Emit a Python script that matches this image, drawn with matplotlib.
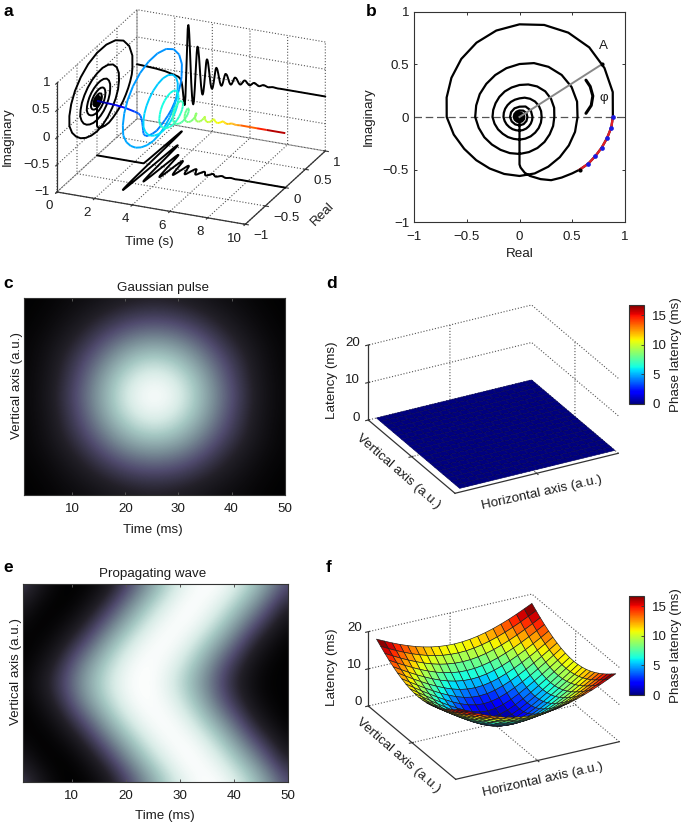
import numpy as np
import matplotlib
matplotlib.use('Agg')
import matplotlib.pyplot as plt
from matplotlib import cm
from matplotlib.colors import Normalize, LinearSegmentedColormap
from mpl_toolkits.mplot3d import proj3d
from mpl_toolkits.mplot3d.art3d import Line3DCollection

FS = 9.6
plt.rcParams.update({
    'font.family': ['Liberation Sans', 'DejaVu Sans'], 'font.size': FS,
    'text.color': '#1c1c1c', 'axes.labelcolor': '#1c1c1c',
    'xtick.color': '#333333', 'ytick.color': '#333333',
    'xtick.labelcolor': '#1c1c1c', 'ytick.labelcolor': '#1c1c1c',
    'axes.edgecolor': '#333333', 'axes.linewidth': 0.8,
    'grid.color': '#555555', 'grid.linestyle': ':', 'grid.linewidth': 0.8,
})

# ---------- damped oscillation (panels a, b) ----------
approach_t = [0, .5, 1, 1.5, 2, 2.2, 2.3, 2.36, 2.40, 2.43, 2.45, 2.465, 2.48, 2.49, 2.50, 2.515, 2.53, 2.54, 2.55, 2.562,
              2.572, 2.579, 2.586, 2.593, 2.601]
approach_re = [0, 0, 0, 0, 0, 0, 0, 0, 0, 0, 0, 0, .01, .05, .10, .20, .30, .40, .50, .57,
               .65, .72, .78, .83, .87]
approach_im = [0, -.01, -.02, -.04, -.08, -.10, -.13, -.18, -.25, -.33, -.40, -.45, -.48, -.53, -.56, -.59, -.60, -.575, -.535, -.50,
               -.445, -.37, -.29, -.20, -.10]
spiral_radius_15deg = [.885, .915, .93, .935, .925, .905, .88, .85, .815, .78, .745, .715, .69, .645, .605, .58, .565, .56,
                       .56, .555, .545, .54, .54, .545,
                       .55, .565, .57, .565, .55, .53, .503, .48, .46, .445, .435, .425, .42, .40, .385, .37, .36, .355,
                       .351, .345, .34, .335, .33, .33,
                       .33, .34, .345, .345, .335, .32, .304, .29, .28, .27, .262, .258, .256, .245, .235, .225, .22, .215,
                       .215, .213, .212, .21, .21, .21,
                       .21, .212, .212, .208, .20, .19, .177, .17, .165, .16, .157, .154, .152, .146, .141, .136, .133, .13,
                       .13, .128, .127, .125, .124, .123, .123]
spiral_radius_30deg = [.124, .115, .098, .095, .092, .09, .085, .081, .08, .078, .076, .075,
                       .076, .07, .062, .058, .056, .055, .052, .05, .05, .048, .047, .046,
                       .046, .043, .04, .038, .036, .035, .034, .033, .032, .031, .03, .03]
spiral_radius_45deg = [.028, .026, .024, .023, .021, .02, .018, .017, .016, .015, .013, .012, .011, .01,
                       .009, .008, .007, .006, .005, .005, .004, .003, .002, .002]
tail_t = [8.5, 9, 10]
tail_val = [0, 0, 0]
onset_time_s = 2.61
cycle_deg_per_s = 720.0
arc_markers_re = [.885, .87, .83, .78, .72, .65]
arc_markers_im = [0, -.10, -.20, -.29, -.37, -.445]
arc_start = (.57, -.50)
amp_point = (.78, .50)
phi_arc_re = [.63, .67, .695, .68, .63]
phi_arc_im = [.35, .29, .20, .11, .035]

phase = np.concatenate([np.arange(0, 1455, 15), np.arange(1470, 2550, 30), np.arange(2565, 3615, 45)])
radius = np.array(spiral_radius_15deg + spiral_radius_30deg + spiral_radius_45deg)
time_s = np.concatenate([approach_t, onset_time_s + phase / cycle_deg_per_s, tail_t])
real_part = np.concatenate([approach_re, radius * np.cos(np.radians(phase)), tail_val])
imag_part = np.concatenate([approach_im, radius * np.sin(np.radians(phase)), tail_val])

# ---------- image panels (c, e): normalised intensity on coarse grids ----------
gauss_quadrant = np.array([
    [1.00, .93, .74, .51, .30, .13, .04],
    [.95, .88, .71, .48, .28, .12, .04],
    [.83, .77, .61, .42, .25, .11, .03],
    [.66, .61, .49, .33, .20, .09, .03],
    [.47, .44, .35, .24, .14, .06, .02],
    [.31, .29, .23, .16, .09, .04, .01],
    [.19, .17, .14, .09, .06, .02, .01]])
wave_half = np.array([
    [.32, .16, .04, .00, .03, .12, .28, .47, .66, .83, .94, 1.0, .98, .89, .75, .57, .38],
    [.17, .05, .00, .02, .11, .26, .45, .64, .81, .93, 1.0, .98, .90, .76, .59, .39, .22],
    [.06, .00, .03, .11, .26, .44, .63, .80, .93, .99, .99, .91, .77, .59, .40, .23, .09],
    [.00, .03, .11, .26, .43, .63, .80, .93, .99, .99, .91, .77, .60, .41, .22, .09, .015],
    [.015, .09, .22, .41, .60, .77, .91, .99, .99, .93, .80, .63, .43, .26, .11, .03, .00],
    [.035, .14, .29, .48, .67, .83, .95, 1.0, .98, .88, .73, .55, .36, .19, .07, .01, .02]])
gauss_img = np.vstack([np.hstack([gauss_quadrant[::-1, :0:-1], gauss_quadrant[::-1]]),
                       np.hstack([gauss_quadrant[1:, :0:-1], gauss_quadrant[1:]])])
wave_img = np.vstack([wave_half, wave_half[-2::-1]])
image_cmap = LinearSegmentedColormap.from_list('bone_purple', [
    (0, '#000000'), (.2, '#222028'), (.375, '#504b6e'), (.56, '#788c96'), (.75, '#a5c8c3'), (.875, '#d7ebe6'), (1, '#ffffff')])

# ---------- latency surface (f): one quadrant, centre at [0][0], mirrored ----------
latency_quadrant = np.array([
    [0.0, .25, .93, 1.9, 3.06, 4.33, 5.67, 7.06, 8.48, 9.93, 11.38],
    [.25, .48, 1.13, 2.08, 3.21, 4.46, 5.79, 7.16, 8.57, 10.0, 11.46],
    [.93, 1.13, 1.72, 2.59, 3.65, 4.84, 6.12, 7.46, 8.84, 10.24, 11.67],
    [1.9, 2.08, 2.59, 3.36, 4.33, 5.44, 6.65, 7.93, 9.26, 10.63, 12.03],
    [3.06, 3.21, 3.65, 4.33, 5.21, 6.23, 7.36, 8.57, 9.84, 11.16, 12.52],
    [4.33, 4.46, 4.84, 5.44, 6.23, 7.16, 8.21, 9.35, 10.56, 11.82, 13.12],
    [5.67, 5.79, 6.12, 6.65, 7.36, 8.21, 9.18, 10.24, 11.38, 12.58, 13.84],
    [7.06, 7.16, 7.46, 7.93, 8.57, 9.35, 10.24, 11.24, 12.31, 13.45, 14.64],
    [8.48, 8.57, 8.84, 9.26, 9.84, 10.56, 11.38, 12.31, 13.32, 14.4, 15.53],
    [9.93, 10.0, 10.24, 10.63, 11.16, 11.82, 12.58, 13.45, 14.4, 15.42, 16.5],
    [11.38, 11.46, 11.67, 12.03, 12.52, 13.12, 13.84, 14.64, 15.53, 16.5, 17.5]])
latency_f = np.vstack([np.hstack([latency_quadrant[:0:-1, :0:-1], latency_quadrant[:0:-1]]),
                       np.hstack([latency_quadrant[:, :0:-1], latency_quadrant])])
latency_d = np.zeros((21, 21))
vertical_grid = np.linspace(0, .96, 21)
horizontal_grid = np.linspace(.05, 1, 21)
latency_max = 16.7

W, H = 685, 823
fig = plt.figure(figsize=(W / 100, H / 100), dpi=100)


def rect(x0, y0, x1, y1):
    return [x0 / W, 1 - y1 / H, (x1 - x0) / W, (y1 - y0) / H]


def px_text(x, y, s, rotation=0, ha='center', **kw):
    """Axis title placed at a figure pixel (from top-left)."""
    fig.text(x / W, 1 - y / H, s, rotation=rotation, rotation_mode='anchor', ha=ha, va='center', **kw)


def axes3d(corner, xv, yv, zh, xlim, ylim, zlim):
    """Orthographic 3-D axes whose box lands on given figure pixels."""
    sin_el = np.sqrt((-xv[1] / xv[0]) * (yv[1] / yv[0]))
    tan_p = np.sqrt((-xv[1] / xv[0]) / (yv[1] / yv[0]))
    el = np.arcsin(sin_el)
    p = np.arctan(tan_p)
    aspect = (xv[0] / np.cos(p), yv[0] / np.sin(p), zh / np.cos(el))
    side = 500
    cx, cy = corner[0] + (xv[0] + yv[0]) / 2, corner[1] - (xv[1] + yv[1] + zh) / 2
    pos = [cx - side / 2, cy - side / 2]
    ax = fig.add_axes(rect(pos[0], pos[1], pos[0] + side, pos[1] + side),
                      projection='3d', proj_type='ortho')
    ax.view_init(elev=np.degrees(el), azim=-90 + np.degrees(p))
    ax.set_xlim(*xlim); ax.set_ylim(*ylim); ax.set_zlim(*zlim)
    ax.patch.set_alpha(0)

    def project(x, y, z):
        ax.apply_aspect()
        a, b, _ = proj3d.proj_transform(x, y, z, ax.get_proj())
        return ax.transData.transform((a, b))

    zoom = 1.0
    for _ in range(3):
        ax.set_box_aspect(aspect, zoom=zoom)
        lo = project(xlim[0], ylim[0], zlim[0]); hi = project(xlim[0], ylim[0], zlim[1])
        zoom *= zh / (hi[1] - lo[1])
    ax.set_box_aspect(aspect, zoom=zoom)
    for _ in range(2):
        lo = project(xlim[0], ylim[0], zlim[0])
        pos[0] += corner[0] - lo[0]
        pos[1] += (H - corner[1]) * -1 + lo[1]
        ax.set_position(rect(pos[0], pos[1], pos[0] + side, pos[1] + side))
    for axis in (ax.xaxis, ax.yaxis, ax.zaxis):
        axis.set_pane_color((1, 1, 1, 0))
        axis.pane.set_edgecolor('#555555')
        axis.pane.set_linestyle(':')
        axis.pane.set_linewidth(0.8)
        axis.line.set_color('#333333')
        axis.line.set_linewidth(0.9)
    ax.project_px = project
    return ax


def z_tick_labels(ax, x, y, values, dx, dy):
    """z tick labels, right-aligned beside the projected tick position."""
    ax.set_zticks(values)
    ax.set_zticklabels([''] * len(values))
    for v, s in zip(values, label_ticks(values)):
        px, py = ax.project_px(x, y, v)
        px_text(px + dx, H - py + dy, s, ha='right')


def label_ticks(values):
    return [f'{v:g}'.replace('-', '\u2212') for v in values]


# ---------- panel a ----------
axa = axes3d((57, 192), (188.3, -32.3), (80, 73.3), 109, (0, 10), (-1, 1), (-1, 1))
axa.zaxis.set_ticks_position('lower')
axa.set_xticks([0, 2, 4, 6, 8, 10]); axa.set_xticklabels(label_ticks([0, 2, 4, 6, 8, 10]))
axa.set_yticks([-1, -.5, 0, .5, 1]); axa.set_yticklabels(label_ticks([-1, -.5, 0, .5, 1]))
z_tick_labels(axa, 0, -1, [-1, -.5, 0, .5, 1], -7, 0)
axa.tick_params(axis='x', pad=0.5)
axa.tick_params(axis='y', pad=0)
for t in axa.get_xticklabels():
    t.set_ha('right')
for t in axa.get_yticklabels():
    t.set_ha('left')
px_text(149, 242, 'Time (s)')
px_text(323, 214, 'Real', rotation=45)
px_text(8, 137, 'Imaginary', rotation=90)
blk = dict(color='k', lw=1.4, solid_capstyle='round')
axa.plot(time_s, real_part, np.full_like(time_s, -1.0), **blk)
axa.plot(time_s, np.full_like(time_s, 1.0), imag_part, **blk)
axa.plot(np.zeros_like(time_s), real_part, imag_part, **blk)
pts = np.column_stack([time_s, real_part, imag_part]).reshape(-1, 1, 3)
segs = np.concatenate([pts[:-1], pts[1:]], axis=1)
lc = Line3DCollection(segs, cmap='jet', norm=Normalize(0, 10), linewidth=1.4)
lc.set_array((time_s[:-1] + time_s[1:]) / 2)
axa.add_collection3d(lc)

# ---------- panel b ----------
axb = fig.add_axes(rect(414, 11.7, 625, 222.3))
axb.plot(real_part, imag_part, color='k', lw=1.6, zorder=3)
axb.axhline(0, color='#555555', lw=0.9, ls=(0, (6, 3)), zorder=2)
axb.plot([0, amp_point[0]], [0, amp_point[1]], color='#888888', lw=1.4, zorder=4)
axb.plot(phi_arc_re, phi_arc_im, color='k', lw=2.2, solid_capstyle='round', zorder=4)
axb.plot([arc_start[0]] + arc_markers_re[::-1], [arc_start[1]] + arc_markers_im[::-1], color='#e0202a', lw=1.7, zorder=5)
axb.plot(arc_markers_re, arc_markers_im, 'o', color='#1a1ae0', ms=3.4, mew=0, zorder=6)
axb.plot(*zip(arc_start, amp_point), 'o', color='k', ms=3, mew=0, zorder=6)
axb.text(.80, .674, 'A', ha='center', va='center')
axb.text(.80, .177, '\u03c6', ha='center', va='center')
axb.set_xlim(-1, 1); axb.set_ylim(-1, 1)
axb.set_xticks([-1, -.5, 0, .5, 1]); axb.set_xticklabels(label_ticks([-1, -.5, 0, .5, 1]))
axb.set_yticks([-1, -.5, 0, .5, 1]); axb.set_yticklabels(label_ticks([-1, -.5, 0, .5, 1]))
axb.tick_params(direction='in', length=2.5, top=True, right=True, width=0.7)
axb.tick_params(axis='x', pad=6)
axb.set_xlabel('Real', labelpad=4); axb.set_ylabel('Imaginary', labelpad=6)


# ---------- panels c, e ----------
def image_panel(box, img, title, title_x, label_x):
    ax = fig.add_axes(rect(*box))
    ny, nx = img.shape
    dx, dy = 49 / (nx - 1), 1 / (ny - 1)
    ax.imshow(img, cmap=image_cmap, vmin=0, vmax=1, aspect='auto', interpolation='bicubic',
              extent=(1 - dx / 2, 50 + dx / 2, 1 + dy / 2, -dy / 2))
    ax.set_xlim(1, 50); ax.set_ylim(1, 0)
    ax.set_xticks([10, 20, 30, 40, 50]); ax.set_yticks([])
    ax.tick_params(axis='x', direction='in', length=2.5, width=0.7, color='#555555', top=True, pad=6)
    ax.set_xlabel('Time (ms)', labelpad=6, x=label_x)
    ax.set_ylabel('Vertical axis (a.u.)', labelpad=1, y=.556)
    ax.set_title(title, fontsize=FS, pad=5, x=title_x)
    return ax


image_panel((24.3, 297.5, 284.7, 495), gauss_img, 'Gaussian pulse', .533, .495)
image_panel((23, 584, 288, 781.7), wave_img, 'Propagating wave', .49, .536)


# ---------- panels d, f ----------
def surface_panel(corner, xv, yv, zh, Z, cbar_box, edge, label_xy, z_off):
    ax = axes3d(corner, xv, yv, zh, (0, 1), (0, 1), (0, 20))
    ax.set_xticks([.5]); ax.set_xticklabels([''])
    ax.set_yticks([.5]); ax.set_yticklabels([''])
    ax.zaxis.set_ticks_position('lower')
    z_tick_labels(ax, 0, 0, [0, 10, 20], *z_off)
    px_text(*label_xy[0], 'Vertical axis (a.u.)', rotation=-41)
    px_text(*label_xy[1], 'Horizontal axis (a.u.)', rotation=12.5)
    px_text(*label_xy[2], 'Latency (ms)', rotation=90)
    X, Y = np.meshgrid(vertical_grid, horizontal_grid, indexing='ij')
    norm = Normalize(0, latency_max)
    ax.plot_surface(X, Y, Z, cmap='jet', norm=norm, shade=False, rstride=1, cstride=1,
                    edgecolor=edge, linewidth=0.45, antialiased=True)
    cax = fig.add_axes(rect(*cbar_box))
    cb = fig.colorbar(cm.ScalarMappable(norm=norm, cmap='jet'), cax=cax, ticks=[0, 5, 10, 15])
    cb.ax.tick_params(direction='in', length=2, width=0.6, pad=6)
    cb.set_label('Phase latency (ms)', labelpad=2)
    return ax


surface_panel((368.3, 420), (86.7, -73.3), (163.3, 40), 75, latency_d, (629, 305, 644, 404), '#05055c',
              [(398, 472), (542, 493), (332, 380)], (-8, -2))
surface_panel((368.3, 706), (87.4, -73.3), (163.6, 37.6), 74.3, latency_f, (629, 596, 644, 695), '#1a1a1a',
              [(398, 755.6), (543, 780), (332, 667)], (-6, -4))

# ---------- panel letters ----------
for s, x, y in [('a', 3, 12), ('b', 366, 12), ('c', 3, 283), ('d', 326, 283), ('e', 3, 568), ('f', 326, 568)]:
    fig.text(x / W, 1 - y / H, s, fontsize=12.5, fontweight='bold', va='center', ha='left', color='k')

fig.savefig('out.png', dpi=100)
